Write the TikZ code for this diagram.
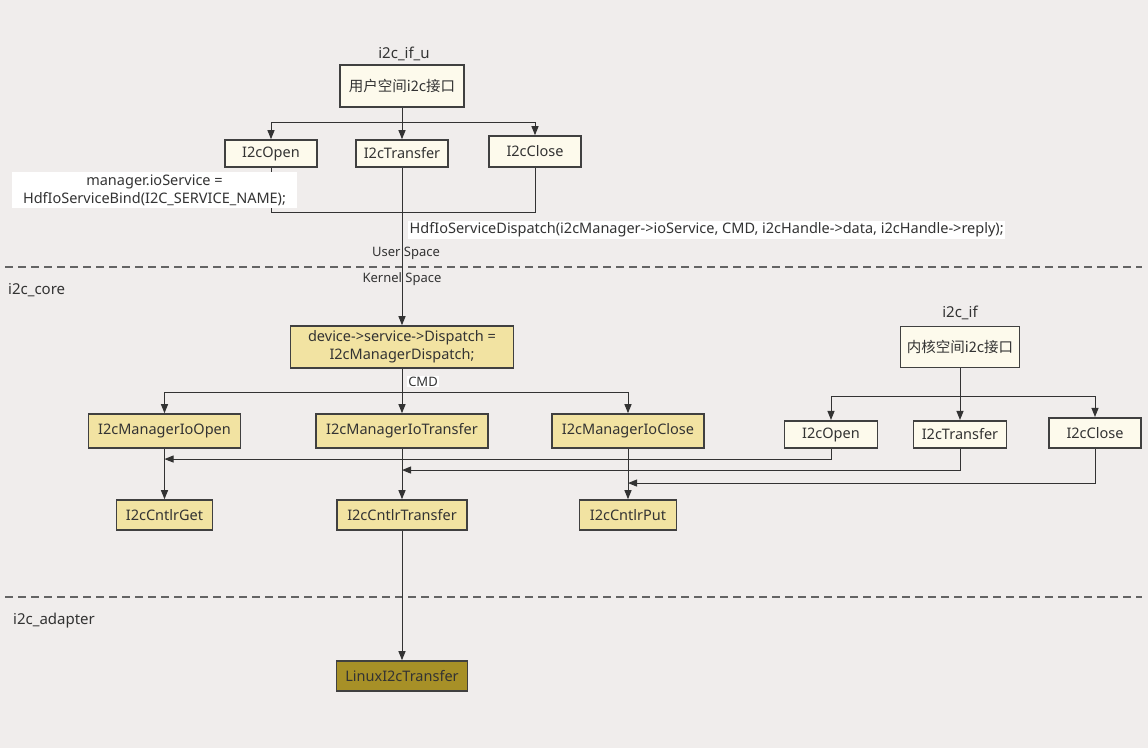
\documentclass[tikz,border=0pt]{standalone}
\usepackage{fontspec}
\setmainfont{Noto Sans}
\newfontfamily\cjk{Noto Sans CJK SC}
\usetikzlibrary{arrows.meta}
\definecolor{bgc}{RGB}{240,237,236}
\definecolor{creamc}{RGB}{253,250,236}
\definecolor{khakic}{RGB}{242,227,162}
\definecolor{olivec}{RGB}{167,144,39}
\definecolor{bordc}{RGB}{64,64,64}
\definecolor{linec}{RGB}{51,51,51}
\definecolor{txtc}{RGB}{51,51,51}
\definecolor{dashc}{RGB}{100,100,100}
\tikzset{
  box/.style={draw=bordc, line width=1.6pt, inner sep=0pt, text=txtc,
    font=\fontsize{14.5}{18}\selectfont, align=center},
  ubox/.style={box, fill=creamc},
  kbox/.style={box, fill=khakic},
  abox/.style={box, fill=olivec},
  conn/.style={draw=linec, line width=1pt},
  arr/.style={conn, -{Triangle[length=9pt,width=7pt]}},
  title/.style={text=txtc, font=\fontsize{15}{18}\selectfont, inner sep=0pt},
  small/.style={text=txtc, font=\fontsize{13}{15}\selectfont, inner sep=0pt},
  wlab/.style={fill=white, text=txtc, font=\fontsize{14.5}{18}\selectfont, inner sep=1.5pt},
  sepline/.style={draw=dashc, line width=1.8pt, dash pattern=on 8pt off 5pt},
}
\begin{document}
\begin{tikzpicture}[x=1pt,y=-1pt]
\fill[bgc] (0,0) rectangle (1148,748);
\useasboundingbox (0,0) rectangle (1148,748);

% separators
\draw[sepline] (5,267) coordinate (s1a) -- (1142,267) coordinate (s1b);
\draw[sepline] (5,597) coordinate (s2a) -- (1142,597) coordinate (s2b);

% section labels
\node[title] (tu) at (404,54) {i2c\_if\_u};
\node[title] (tk) at (960,313) {i2c\_if};
\node[title, anchor=west] (tcore) at (8,290) {i2c\_core};
\node[title, anchor=west] (tad) at (13,621) {i2c\_adapter};
\node[small] (us) at (406,253) {User Space};
\node[small] (ks) at (402,279.5) {Kernel Space};

% user space nodes
\node[ubox, minimum width=124pt, minimum height=42pt] (uif) at (402,86) {\cjk 用户空间i2c接口};
\node[ubox, minimum width=92pt, minimum height=27pt] (uopen) at (271,153.5) {I2cOpen};
\node[ubox, minimum width=92pt, minimum height=27pt] (utrans) at (402,153.5) {I2cTransfer};
\node[ubox, minimum width=92pt, minimum height=31pt] (uclose) at (535,151.5) {I2cClose};

% core nodes
\node[kbox, minimum width=223pt, minimum height=42pt] (dev) at (402,347) {device->service->Dispatch =\\I2cManagerDispatch;};
\node[kbox, minimum width=152pt, minimum height=34pt] (mopen) at (164.5,431) {I2cManagerIoOpen};
\node[kbox, minimum width=172pt, minimum height=34pt] (mtrans) at (402,431) {I2cManagerIoTransfer};
\node[kbox, minimum width=152pt, minimum height=34pt] (mclose) at (628,431) {I2cManagerIoClose};
\node[kbox, minimum width=96pt, minimum height=30pt] (cget) at (164.5,515) {I2cCntlrGet};
\node[kbox, minimum width=130pt, minimum height=30pt] (ctrans) at (402,515) {I2cCntlrTransfer};
\node[kbox, minimum width=97pt, minimum height=30pt] (cput) at (628,515) {I2cCntlrPut};

% kernel interface nodes
\node[ubox, minimum width=119pt, minimum height=41pt] (kif) at (960,347) {\cjk 内核空间i2c接口};
\node[ubox, minimum width=93pt, minimum height=27.5pt] (kopen) at (831,434.5) {I2cOpen};
\node[ubox, minimum width=93pt, minimum height=27.5pt] (ktrans) at (960,434.5) {I2cTransfer};
\node[ubox, minimum width=92pt, minimum height=30.5pt] (kclose) at (1095,433) {I2cClose};

% adapter
\node[abox, minimum width=131pt, minimum height=30pt] (linux) at (402,676) {LinuxI2cTransfer};

% user connectors
\draw[arr] (uif.south) -- (utrans.north);
\draw[arr] (uif.south) -- ++(0,15) -| (uopen.north);
\draw[arr] (uif.south) -- ++(0,15) -| (uclose.north);
\draw[conn] (uopen.south) -- ++(0,45) -| (uclose.south);
\draw[arr] (utrans.south) -- (dev.north);

% core connectors
\draw[arr] (dev.south) -- (mtrans.north);
\draw[arr] (dev.south) -- ++(0,24) -| (mopen.north);
\draw[arr] (dev.south) -- ++(0,24) -| (mclose.north);
\draw[arr] (mopen.south) -- (cget.north);
\draw[arr] (mtrans.south) -- (ctrans.north);
\draw[arr] (mclose.south) -- (cput.north);
\draw[arr] (ctrans.south) -- (linux.north);

% kernel interface connectors
\draw[arr] (kif.south) -- (ktrans.north);
\draw[arr] (kif.south) -- ++(0,28) -| (kopen.north);
\draw[arr] (kif.south) -- ++(0,28) -| (kclose.north);
\draw[arr] (kopen.south) -- ++(0,10) coordinate (ko) -- (ko -| mopen.south);
\draw[arr] (ktrans.south) -- ++(0,21) coordinate (kt) -- (kt -| mtrans.south);
\draw[arr] (kclose.south) -- ++(0,34) coordinate (kc) -- (kc -| mclose.south);

% white labels
\node[wlab, align=center, minimum width=285pt, minimum height=35.5pt] (bindlab) at (154.5,190) {manager.ioService =\\HdfIoServiceBind(I2C\_SERVICE\_NAME);};
\node[wlab, anchor=west] (displab) at (408,230) {HdfIoServiceDispatch(i2cManager->ioService, CMD, i2cHandle->data, i2cHandle->reply);};
\node[wlab, font=\fontsize{13}{15}\selectfont, inner sep=1pt] (cmdlab) at (423,381.5) {CMD};
\end{tikzpicture}
\end{document}
